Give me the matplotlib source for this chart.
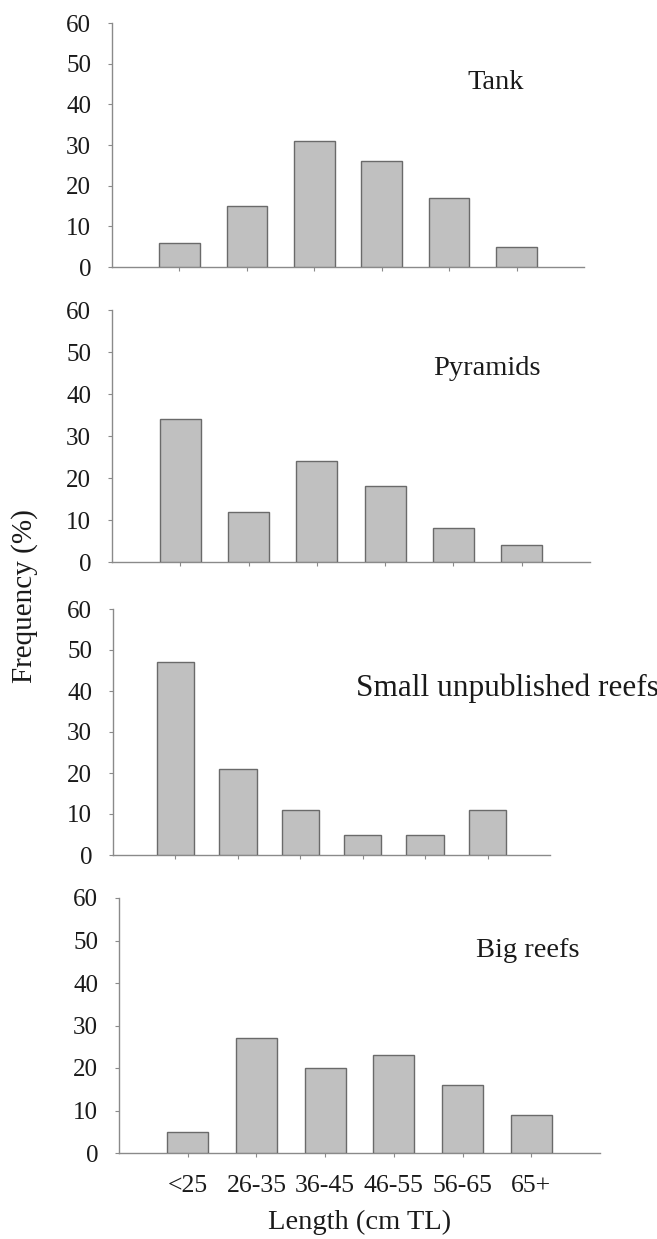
import matplotlib
matplotlib.use("Agg")
import matplotlib.pyplot as plt

categories = ["<25", "26-35", "36-45", "46-55", "56-65", "65+"]
tank = [6, 15, 31, 26, 17, 5]
pyramids = [34, 12, 24, 18, 8, 4]
small_reefs = [47, 21, 11, 5, 5, 11]
big_reefs = [5, 27, 20, 23, 16, 9]
panel_names = ["Tank", "Pyramids", "Small unpublished reefs", "Big reefs"]
yticks = [0, 10, 20, 30, 40, 50, 60]

W, H = 657, 1239
fig = plt.figure(figsize=(W / 100, H / 100), dpi=100)
plt.rcParams['font.family'] = ['Liberation Serif', 'DejaVu Serif']

# pixel boxes: left, right, top, bottom
boxes = [(112, 584, 23, 267), (112, 590, 310, 562), (113, 550, 609, 855), (119, 600, 898, 1153)]
label_pos = [(0.752, 0.758), (0.672, 0.766), (0.556, 0.679), (0.742, 0.796)]
label_size = [20.5, 20.5, 22.5, 20.5]
series = [tank, pyramids, small_reefs, big_reefs]

axis_col = "#8a8a8a"
txt_col = "#1a1a1a"
for i, (vals, box, name, lp, ls) in enumerate(zip(series, boxes, panel_names, label_pos, label_size)):
    l, r, t, b = box
    ax = fig.add_axes([l / W, 1 - b / H, (r - l) / W, (b - t) / H])
    x = list(range(len(categories)))
    ax.bar(x, vals, width=0.6, color="#c0c0c0", edgecolor="#6a6a6a", linewidth=1.0, zorder=3)
    ax.set_xlim(-1, 6)
    ax.set_ylim(0, 60)
    ax.set_yticks(yticks)
    ax.set_xticks(x)
    for s in ["top", "right"]:
        ax.spines[s].set_visible(False)
    for s in ["left", "bottom"]:
        ax.spines[s].set_color(axis_col)
        ax.spines[s].set_linewidth(1.0)
    ax.tick_params(axis="y", direction="out", length=3, width=0.8, color=axis_col,
                   labelsize=18, labelcolor=txt_col, pad=12)
    ax.tick_params(axis="x", direction="out", length=3, width=0.8, color=axis_col,
                   labelsize=18.5, labelcolor=txt_col, pad=13)
    if i == 3:
        ax.set_xticklabels(categories)
        ax.set_xlabel("Length (cm TL)", fontsize=20.5, color=txt_col, labelpad=9)
    else:
        ax.set_xticklabels([])
    ax.text(lp[0], lp[1], name, transform=ax.transAxes, fontsize=ls, color=txt_col,
            ha="left", va="center")

fig.text(25 / W, 1 - 596 / H, "Frequency (%)", rotation=90, fontsize=21, color=txt_col,
         ha="center", va="center")

fig.savefig("out.png", dpi=100)
